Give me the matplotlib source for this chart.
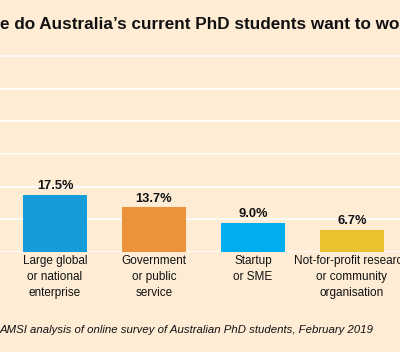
import matplotlib
matplotlib.use("Agg")
import matplotlib.pyplot as plt

# Data: visible part of the chart
categories = ["Large global\nor national\nenterprise",
              "Government\nor public\nservice",
              "Startup\nor SME",
              "Not-for-profit research\nor community\norganisation"]
shares = [17.5, 13.7, 9.0, 6.7]
value_labels = ["17.5%", "13.7%", "9.0%", "6.7%"]
bar_colors = ["#169dd9", "#eb923a", "#00aeef", "#e9c22f"]
grid_ticks = [0, 10, 20, 30, 40, 50, 60]

bg = "#feecd5"
fam = "Liberation Sans"

fig = plt.figure(figsize=(4.0, 3.52), dpi=100, facecolor=bg)
# axes: 0% at y=252px, 60% at y=56px
ax = fig.add_axes([0, 1 - 252 / 352, 1, (252 - 50) / 352], facecolor=bg)
ppu = (252 - 56) / 60.0
ax.set_ylim(0, (252 - 50) / ppu)
ax.set_xlim(-55 / 99.0, (400 - 55) / 99.0)

for t in grid_ticks:
    ax.axhline(t, color="white", linewidth=1.2, zorder=1)

x = range(len(shares))
ax.bar(x, shares, width=0.65, color=bar_colors, zorder=2)

for xi, v, lab in zip(x, shares, value_labels):
    ax.text(xi, v + 0.8, lab, ha="center", va="bottom", fontsize=9.3,
            fontweight="bold", family=fam, color="#111111")

for xi, cat in zip(x, categories):
    ax.text(xi, -1.0, cat, ha="center", va="top", fontsize=8.5,
            family=fam, color="#111111", linespacing=1.45, clip_on=False)

ax.set_xticks([])
ax.set_yticks([])
for s in ax.spines.values():
    s.set_visible(False)

fig.text(0.0, 1 - 29 / 352, "e do Australia\u2019s current PhD students want to wo",
         ha="left", va="baseline", fontsize=12.3, fontweight="bold",
         family=fam, color="#111111")

fig.text(0.0, 1 - 333 / 352,
         "AMSI analysis of online survey of Australian PhD students, February 2019",
         ha="left", va="baseline", fontsize=8.2, style="italic",
         family=fam, color="#111111")

fig.savefig("out.png", dpi=100, facecolor=bg)
